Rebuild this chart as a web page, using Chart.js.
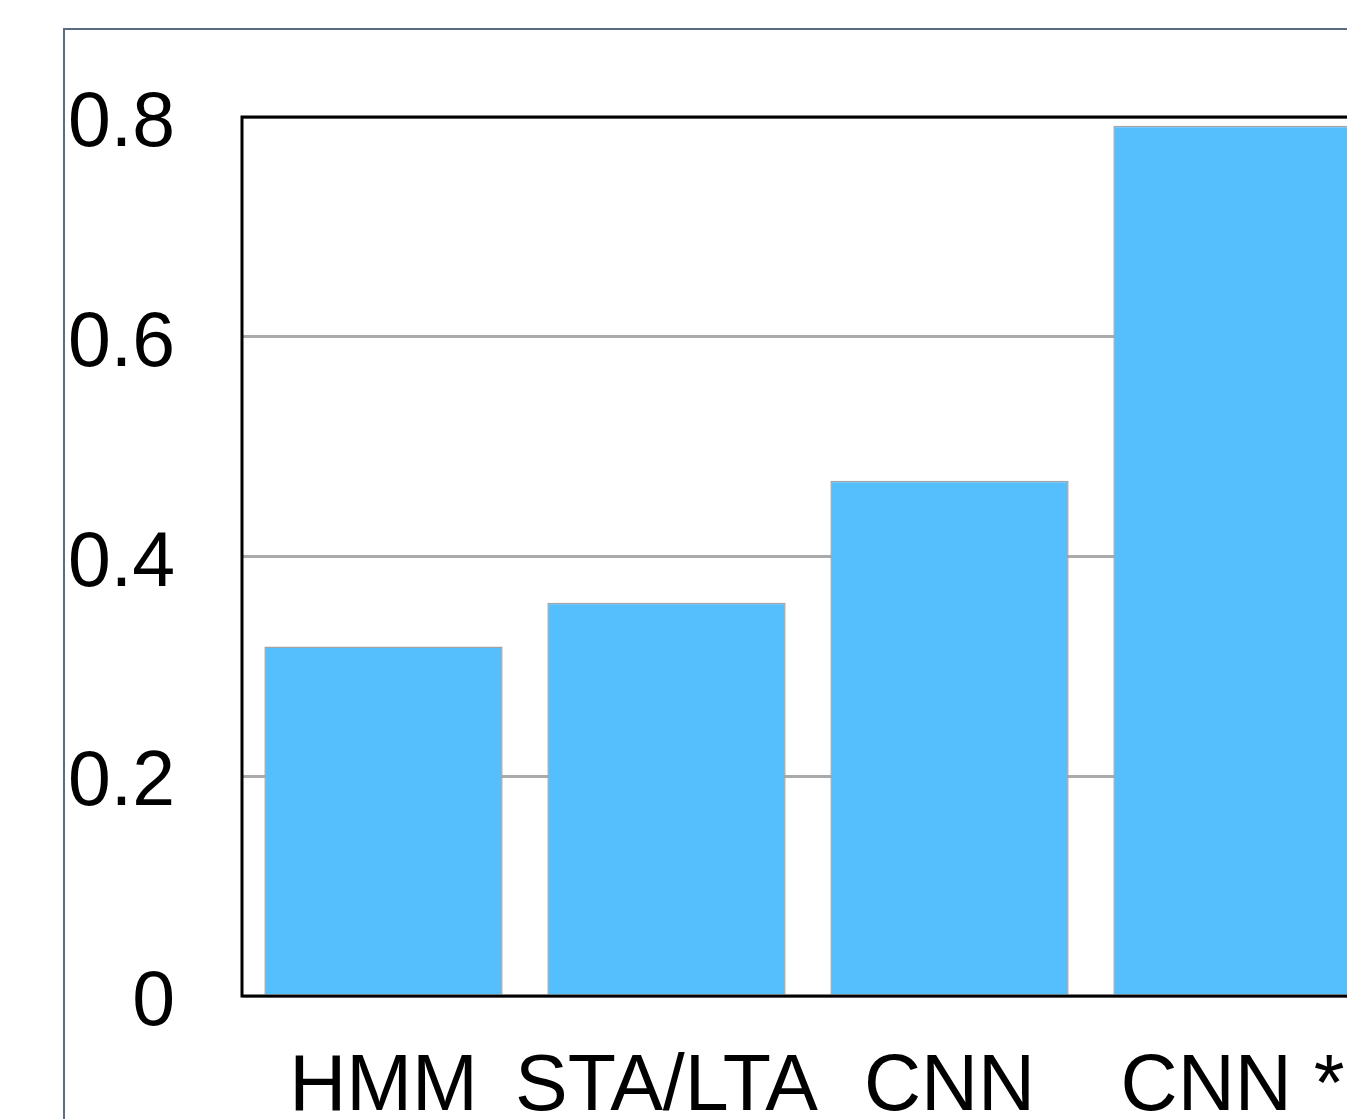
<!DOCTYPE html>
<html>
<head>
<meta charset="utf-8">
<script src="https://cdn.jsdelivr.net/npm/chart.js@4"></script>
<style>
html, body { margin:0; padding:0; background:#fff; overflow:hidden; width:1347px; height:1119px; }
#frame { position:absolute; left:63px; top:28px; width:1400px; height:1200px; border:2px solid #5b6b82; box-sizing:border-box; }
#wrap { position:absolute; left:0; top:0; width:1420px; height:1150px; }
</style>
</head>
<body>
<div id="frame"></div>
<div id="wrap"><canvas id="c" width="1420" height="1150"></canvas></div>
<script>
const categories = ["HMM", "STA/LTA", "CNN", "CNN *"];
const values = [0.318, 0.358, 0.469, 0.792];
const yTicks = [0, 0.2, 0.4, 0.6, 0.8];

const boxPlugin = {
  id: 'box',
  afterDatasetsDraw(chart) {
    const a = chart.chartArea, ctx = chart.ctx;
    ctx.save();
    ctx.strokeStyle = '#000';
    ctx.lineWidth = 3;
    ctx.strokeRect(a.left, a.top, a.right - a.left, a.bottom - a.top);
    ctx.restore();
  }
};

new Chart(document.getElementById('c'), {
  type: 'bar',
  data: {
    labels: categories,
    datasets: [{
      data: values,
      backgroundColor: '#55befc',
      borderColor: '#a3a3a3',
      borderWidth: 1.5,
      barPercentage: 0.842,
      categoryPercentage: 1.0
    }]
  },
  options: {
    responsive: false,
    devicePixelRatio: 1,
    animation: false,
    layout: { padding: { left: 0, top: 117, right: 46, bottom: 0 } },
    plugins: { legend: { display: false }, tooltip: { enabled: false } },
    scales: {
      x: {
        grid: { display: false },
        border: { display: false },
        ticks: {
          color: '#000',
          font: { family: 'Liberation Sans, Arial', size: 79 },
          padding: 37,
          maxRotation: 0,
          autoSkip: false
        },
        afterFit(s) { s.height = 154; }
      },
      y: {
        min: 0, max: 0.8,
        afterBuildTicks(s) { s.ticks = yTicks.map(v => ({ value: v })); },
        grid: { color: '#aaaaaa', lineWidth: 3, drawTicks: false },
        border: { display: false },
        ticks: {
          color: '#000',
          font: { family: 'Liberation Sans, Arial', size: 77 },
          padding: 67,
          labelOffset: 8,
          callback: v => String(v)
        },
        afterFit(s) { s.width = 242; }
      }
    }
  },
  plugins: [boxPlugin]
});
</script>
</body>
</html>
